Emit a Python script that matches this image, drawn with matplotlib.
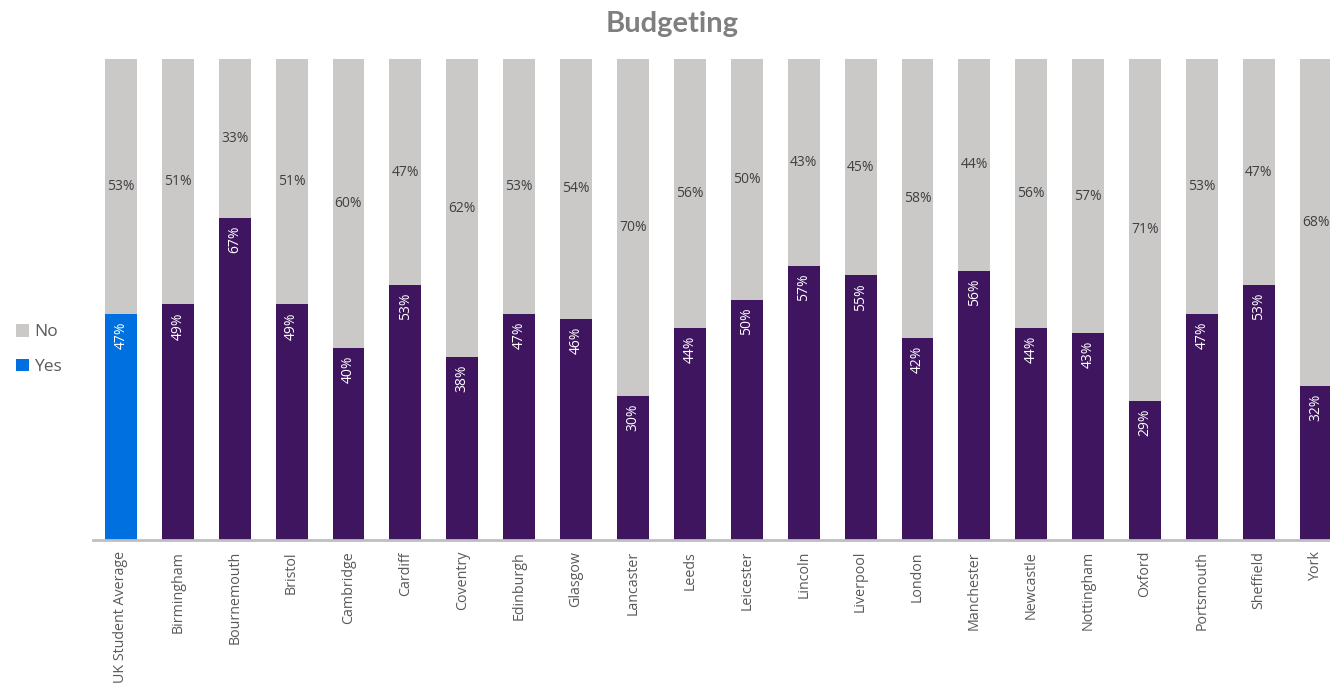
import numpy as np
import matplotlib.pyplot as plt

# ==========================================
# DATA
# ==========================================
cities = ["UK Student Average", "Birmingham", "Bournemouth", "Bristol", "Cambridge",
          "Cardiff", "Coventry", "Edinburgh", "Glasgow", "Lancaster", "Leeds",
          "Leicester", "Lincoln", "Liverpool", "London", "Manchester", "Newcastle",
          "Nottingham", "Oxford", "Portsmouth", "Sheffield", "York"]
yes_pct = [47, 49, 67, 49, 40, 53, 38, 47, 46, 30, 44, 50, 57, 55, 42, 56, 44, 43, 29, 47, 53, 32]
no_pct = [53, 51, 33, 51, 60, 47, 62, 53, 54, 70, 56, 50, 43, 45, 58, 44, 56, 57, 71, 53, 47, 68]

PURPLE = "#3F1560"
BLUE = "#0070E0"
GREY = "#CBC8C8"

plt.rcParams['font.family'] = ['Open Sans', 'DejaVu Sans']

# ==========================================
# PLOT
# ==========================================
fig = plt.figure(figsize=(13.3, 6.84), dpi=100)
ax = fig.add_axes([93 / 1330, 144 / 684, 1 - 93 / 1330, (540 - 59) / 684])

x = np.arange(len(cities))
yes = np.array(yes_pct) / 100
no = np.array(no_pct) / 100
width = 0.56

yes_colors = [BLUE] + [PURPLE] * (len(cities) - 1)
ax.bar(x, yes, width, color=yes_colors, label="Yes", zorder=2)
ax.bar(x, no, width, bottom=yes, color=GREY, label="No", zorder=2)

for xi, y, n in zip(x, yes, no):
    ax.text(xi, y - 0.016, f"{round(y * 100)}%", rotation=90, ha="center", va="top",
            color="white", fontsize=10)
    ax.text(xi, y + n / 2, f"{round(n * 100)}%", ha="center", va="center",
            color="#404040", fontsize=10)

ax.set_xlim(-0.49, 21.25)
ax.set_ylim(0, 1)
ax.set_xticks(x)
ax.set_xticklabels(cities, rotation=90, fontsize=10.3, color="#595959")
ax.tick_params(axis="x", length=0, pad=8)
ax.set_yticks([])
for side in ["top", "right", "left"]:
    ax.spines[side].set_visible(False)
ax.spines["bottom"].set_color("#BFBFBF")
ax.spines["bottom"].set_linewidth(2)

handles, labels = ax.get_legend_handles_labels()
fig.legend(handles[::-1], labels[::-1], loc="center left", bbox_to_anchor=(0.0, 0.489),
           frameon=False, fontsize=12.5, labelcolor="#595959", handlelength=0.75,
           handleheight=0.75, handletextpad=0.3, labelspacing=1.05)

fig.text(0.505, 0.965, "Budgeting", ha="center", va="center", fontsize=21,
         fontweight="bold", color="#7F7F7F", family=["Lato", "DejaVu Sans"])

plt.savefig("out.png", dpi=100)
